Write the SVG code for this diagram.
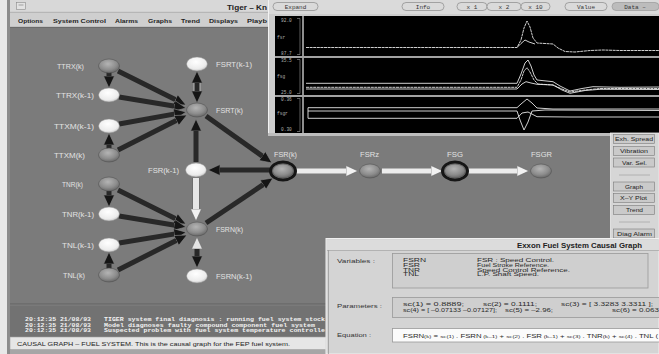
<svg xmlns="http://www.w3.org/2000/svg" width="659" height="354" viewBox="0 0 659 354">
<style>
.lbl{font-family:"Liberation Sans",Arial,sans-serif;font-size:6.5px;fill:#e2e2e2}
.menu{font-family:"Liberation Sans",Arial,sans-serif;font-size:6px;font-weight:bold;fill:#1e1e1e}
.log{font-family:"Liberation Mono",monospace;font-size:5.5px;font-weight:bold;fill:#f2f2f2}
.btn{fill:#cacaca;stroke:#7a7a7a;stroke-width:0.6}
.btxt{font-family:"Liberation Sans",Arial,sans-serif;font-size:5.5px;fill:#222}
.pill{fill:#dadada;stroke:#8a8a8a;stroke-width:0.7}
.ptxt{font-family:"Liberation Mono",monospace;font-size:6px;fill:#333;text-anchor:middle}
.ax{font-family:"Liberation Mono",monospace;font-size:4.5px;fill:#b0b0b0}
.tr{fill:none;stroke:#e6e6e6;stroke-width:0.9}
.dark{fill:url(#gd);stroke:#4a4a4a;stroke-width:0.5}
.light{fill:url(#gl);stroke:#8a8a8a;stroke-width:0.5}
.ring{fill:none;stroke:#161616;stroke-width:3}
.ad{fill:none;stroke:#282828;stroke-width:5;marker-end:url(#hd)}
.aw{fill:none;stroke:#ececec;stroke-width:5;marker-end:url(#hw)}
.pt{font-family:"Liberation Sans",Arial,sans-serif;font-size:5px;fill:#2a2a2a}
.pv{font-family:"Liberation Sans",Arial,sans-serif;font-size:4.6px;fill:#2a2a2a}
.pl{font-family:"Liberation Sans",Arial,sans-serif;font-size:6px;fill:#333}
</style>
<defs>
<radialGradient id="gd" cx="0.45" cy="0.35" r="0.7"><stop offset="0" stop-color="#b4b4b4"/><stop offset="0.6" stop-color="#8c8c8c"/><stop offset="1" stop-color="#606060"/></radialGradient>
<radialGradient id="gl" cx="0.45" cy="0.35" r="0.7"><stop offset="0" stop-color="#ffffff"/><stop offset="0.7" stop-color="#ececec"/><stop offset="1" stop-color="#bdbdbd"/></radialGradient>
<marker id="hd" markerUnits="userSpaceOnUse" viewBox="0 0 12 12" refX="1" refY="6" markerWidth="12" markerHeight="12" orient="auto-start-reverse"><path d="M0,0.5 L12,6 L0,11.5 z" fill="#151515" stroke="#8a8a8a" stroke-width="0.6"/></marker>
<marker id="hl" markerUnits="userSpaceOnUse" viewBox="0 0 12 12" refX="1" refY="6" markerWidth="12" markerHeight="12" orient="auto-start-reverse"><path d="M0,0.5 L12,6 L0,11.5 z" fill="#e4e4e4" stroke="#6a6a6a" stroke-width="0.6"/></marker>
<marker id="hw" markerUnits="userSpaceOnUse" viewBox="0 0 12 12" refX="1" refY="6" markerWidth="12" markerHeight="12" orient="auto"><path d="M0,0.5 L12,6 L0,11.5 z" fill="#f2f2f2" stroke="#6a6a6a" stroke-width="0.6"/></marker>
</defs>

<!-- background & main window -->
<rect x="0" y="0" width="659" height="354" fill="#e8e8e8"/>
<rect x="7" y="0" width="4" height="354" fill="#8c8c8c"/>
<rect x="10" y="0" width="258" height="12" fill="#d8d8d8"/>
<rect x="16.5" y="2.5" width="9" height="7" fill="#e2e2e2" stroke="#8a8a8a" stroke-width="0.6"/>
<path d="M18.5,5 L23.5,5" stroke="#777" stroke-width="0.6"/>
<text x="227" y="9.5" font-family="Liberation Sans, Arial, sans-serif" font-size="7" font-weight="bold" fill="#222" textLength="40" lengthAdjust="spacingAndGlyphs">Tiger – Kn</text>
<rect x="10" y="12" width="258" height="15" fill="#cfcfcf"/>
<line x1="10" y1="12.3" x2="268" y2="12.3" stroke="#9a9a9a" stroke-width="0.6"/>
<text class="menu" x="18" y="22.5" textLength="25" lengthAdjust="spacingAndGlyphs">Options</text>
<text class="menu" x="53" y="22.5" textLength="53" lengthAdjust="spacingAndGlyphs">System Control</text>
<text class="menu" x="115" y="22.5" textLength="23" lengthAdjust="spacingAndGlyphs">Alarms</text>
<text class="menu" x="148" y="22.5" textLength="24" lengthAdjust="spacingAndGlyphs">Graphs</text>
<text class="menu" x="181" y="22.5" textLength="19" lengthAdjust="spacingAndGlyphs">Trend</text>
<text class="menu" x="209" y="22.5" textLength="29" lengthAdjust="spacingAndGlyphs">Displays</text>
<text class="menu" x="247" y="22.5" textLength="20" lengthAdjust="spacingAndGlyphs">Playb</text>
<rect x="10" y="27" width="601" height="277" fill="#7b7b7b"/>
<line x1="10" y1="27.3" x2="268" y2="27.3" stroke="#5a5a5a" stroke-width="0.6"/>
<rect x="10" y="304" width="316" height="33" fill="#727272"/>
<line x1="10" y1="304" x2="326" y2="304" stroke="#5c5c5c" stroke-width="0.8"/>
<line x1="10" y1="305" x2="326" y2="305" stroke="#8e8e8e" stroke-width="0.6"/>
<text class="log" x="25" y="321" textLength="66" lengthAdjust="spacingAndGlyphs">20:12:35 21/08/93</text>
<text class="log" x="104" y="321" textLength="221" lengthAdjust="spacingAndGlyphs">TIGER system final diagnosis : running fuel system stock</text>
<text class="log" x="25" y="326.5" textLength="66" lengthAdjust="spacingAndGlyphs">20:12:35 21/08/93</text>
<text class="log" x="104" y="326.5" textLength="211" lengthAdjust="spacingAndGlyphs">Model diagnoses faulty compound component fuel system</text>
<text class="log" x="25" y="332" textLength="66" lengthAdjust="spacingAndGlyphs">20:12:35 21/08/93</text>
<text class="log" x="104" y="332" textLength="221" lengthAdjust="spacingAndGlyphs">Suspected problem with fuel system temperature controlle</text>
<rect x="10" y="337" width="316" height="12.5" fill="#e6e6e6" stroke="#a0a0a0" stroke-width="0.6"/>
<text x="17" y="346" font-family="Liberation Sans, Arial, sans-serif" font-size="6" fill="#222" textLength="273" lengthAdjust="spacingAndGlyphs">CAUSAL GRAPH – FUEL SYSTEM.  This is the causal graph for the FEP fuel system.</text>
<rect x="10" y="349.5" width="316" height="4.5" fill="#a6a6a6"/>

<!-- connectors -->
<g id="connectors">
<path class="ad" d="M118,71 L176.2,100.1"/>
<path class="ad" d="M119,97 L175.1,106.2"/>
<path class="ad" d="M119,124 L175.2,113.9"/>
<path class="ad" d="M118,150 L177.2,120"/>
<path class="ad" d="M109,72 L109,77"/>
<path class="ad" d="M109,149 L109,144"/>
<path class="ad" d="M109,191 L109,196"/>
<path class="ad" d="M109,269 L109,263"/>
<path d="M197,82 L197,92" fill="none" stroke="#b8b8b8" stroke-width="7"/>
<path d="M197,82 L197,92" fill="none" stroke="#282828" stroke-width="5" marker-start="url(#hd)" marker-end="url(#hd)"/>
<path class="ad" d="M206,116 L263,156.6"/>
<path class="ad" d="M196,162 L196,130"/>
<path class="ad" d="M270,170 L219,170"/>
<path d="M196,178 L196,210" fill="none" stroke="#6a6a6a" stroke-width="7.5"/>
<path d="M196,178 L196,210" fill="none" stroke="#e6e6e6" stroke-width="6" marker-end="url(#hw)"/>
<path class="ad" d="M206,223 L263.9,184.1"/>
<path class="ad" d="M118,190 L176.2,219.1"/>
<path class="ad" d="M119,216 L175.1,225.2"/>
<path class="ad" d="M119,243 L175.2,233.9"/>
<path class="ad" d="M118,270 L177.2,240"/>
<path d="M197,248 L197,257" fill="none" stroke="#282828" stroke-width="5" marker-start="url(#hl)" marker-end="url(#hd)"/>
<path class="aw" d="M296,171 L347,171"/>
<path class="aw" d="M382,171 L432,171"/>
<path class="aw" d="M468,171 L518,171"/>
</g>

<!-- nodes -->
<g id="n-TTRXk"><ellipse class="dark" cx="109" cy="66" rx="10.5" ry="7"/><text class="lbl" x="57" y="68.5" textLength="27" lengthAdjust="spacingAndGlyphs">TTRX(k)</text></g>
<g id="n-TTRXk1"><ellipse class="light" cx="109" cy="95" rx="10.5" ry="7"/><text class="lbl" x="56" y="97.5" textLength="38" lengthAdjust="spacingAndGlyphs">TTRX(k-1)</text></g>
<g id="n-TTXMk1"><ellipse class="light" cx="109" cy="126" rx="10.5" ry="7"/><text class="lbl" x="54" y="128.5" textLength="40" lengthAdjust="spacingAndGlyphs">TTXM(k-1)</text></g>
<g id="n-TTXMk"><ellipse class="dark" cx="109" cy="155" rx="10.5" ry="7"/><text class="lbl" x="54" y="157.5" textLength="31" lengthAdjust="spacingAndGlyphs">TTXM(k)</text></g>
<g id="n-TNRk"><ellipse class="dark" cx="109" cy="184" rx="10.5" ry="7"/><text class="lbl" x="62" y="186.5" textLength="21" lengthAdjust="spacingAndGlyphs">TNR(k)</text></g>
<g id="n-TNRk1"><ellipse class="light" cx="109" cy="214" rx="10.5" ry="7"/><text class="lbl" x="62" y="216.5" textLength="32" lengthAdjust="spacingAndGlyphs">TNR(k-1)</text></g>
<g id="n-TNLk1"><ellipse class="light" cx="109" cy="245" rx="10.5" ry="7"/><text class="lbl" x="62" y="247.5" textLength="32" lengthAdjust="spacingAndGlyphs">TNL(k-1)</text></g>
<g id="n-TNLk"><ellipse class="dark" cx="109" cy="275" rx="10.5" ry="7"/><text class="lbl" x="63" y="277.5" textLength="22" lengthAdjust="spacingAndGlyphs">TNL(k)</text></g>
<g id="n-FSRTk1"><ellipse class="light" cx="197" cy="64" rx="10.5" ry="7"/><text class="lbl" x="216" y="66.5" textLength="36" lengthAdjust="spacingAndGlyphs">FSRT(k-1)</text></g>
<g id="n-FSRTk"><ellipse class="dark" cx="197" cy="110" rx="10.5" ry="7"/><text class="lbl" x="216" y="112.5" textLength="27" lengthAdjust="spacingAndGlyphs">FSRT(k)</text></g>
<g id="n-FSRk1"><ellipse class="light" cx="196" cy="170" rx="10.5" ry="7"/><text class="lbl" x="148" y="172.5" textLength="31" lengthAdjust="spacingAndGlyphs">FSR(k-1)</text></g>
<g id="n-FSRNk"><ellipse class="dark" cx="197" cy="229" rx="10.5" ry="7"/><text class="lbl" x="216" y="231.5" textLength="27" lengthAdjust="spacingAndGlyphs">FSRN(k)</text></g>
<g id="n-FSRNk1"><ellipse class="light" cx="197" cy="276" rx="10.5" ry="7"/><text class="lbl" x="216" y="278.5" textLength="36" lengthAdjust="spacingAndGlyphs">FSRN(k-1)</text></g>
<g id="n-FSRk"><ellipse class="ring" cx="283" cy="171" rx="12.5" ry="9"/><ellipse class="dark" cx="283" cy="171" rx="10.5" ry="7"/><text class="lbl" x="274" y="156.5" textLength="23" lengthAdjust="spacingAndGlyphs">FSR(k)</text></g>
<g id="n-FSRz"><ellipse class="dark" cx="370" cy="171" rx="10.5" ry="7"/><text class="lbl" x="360" y="156.5" textLength="19" lengthAdjust="spacingAndGlyphs">FSRz</text></g>
<g id="n-FSG"><ellipse class="ring" cx="455" cy="171" rx="12.5" ry="9"/><ellipse class="dark" cx="455" cy="171" rx="10.5" ry="7"/><text class="lbl" x="447" y="156.5" textLength="16" lengthAdjust="spacingAndGlyphs">FSG</text></g>
<g id="n-FSGR"><ellipse class="dark" cx="541" cy="171" rx="10.5" ry="7"/><text class="lbl" x="531" y="156.5" textLength="21" lengthAdjust="spacingAndGlyphs">FSGR</text></g>

<!-- chart window -->
<g id="chart">
<rect x="268" y="0" width="391" height="136" fill="#cdcdcd"/>
<rect x="268" y="0" width="391" height="14" fill="#dadada"/>
<line x1="268.5" y1="0" x2="268.5" y2="136" stroke="#f2f2f2" stroke-width="1"/>
<rect class="pill" x="273" y="2.5" width="45" height="8" rx="4"/><text class="ptxt" x="295.5" y="8.8">Expand</text>
<rect class="pill" x="402" y="2.5" width="42" height="8" rx="4"/><text class="ptxt" x="423" y="8.8">Info</text>
<rect class="pill" x="457" y="2.5" width="30" height="8" rx="4"/><text class="ptxt" x="472" y="8.8">x 1</text>
<rect class="pill" x="487" y="2.5" width="34" height="8" rx="4"/><text class="ptxt" x="504" y="8.8">x 2</text>
<rect class="pill" x="521" y="2.5" width="29" height="8" rx="4"/><text class="ptxt" x="535.5" y="8.8">x 10</text>
<rect class="pill" x="565" y="2.5" width="42" height="8" rx="4"/><text class="ptxt" x="586" y="8.8">Value</text>
<rect x="612" y="2.5" width="47" height="8" rx="4" fill="#bcbcbc" stroke="#9a9a9a" stroke-width="0.7"/><text class="ptxt" x="635" y="8.8" fill="#666">Data –</text>
<rect x="275" y="16" width="384" height="117" fill="#000"/>
<rect x="302" y="16" width="2" height="117" fill="#8e8e8e"/>
<rect x="275" y="56" width="384" height="2" fill="#a2a2a2"/>
<rect x="275" y="95" width="384" height="2" fill="#a2a2a2"/>
<rect x="268" y="133" width="391" height="3" fill="#bdbdbd"/>
<path d="M297,18.5 L300,18.5 L300,54.5 L297,54.5 M297,59.5 L300,59.5 L300,93.5 L297,93.5 M297,98.5 L300,98.5 L300,131.5 L297,131.5" fill="none" stroke="#9a9a9a" stroke-width="0.6"/>
<text class="ax" x="281" y="21.5">92.0</text><text class="ax" x="277" y="38.5">fsr</text><text class="ax" x="281" y="55">87.7</text>
<text class="ax" x="281" y="61.5">35.5</text><text class="ax" x="277" y="78">fsg</text><text class="ax" x="281" y="94">25.0</text>
<text class="ax" x="281" y="101">0.36</text><text class="ax" x="277" y="115">fsgr</text><text class="ax" x="281" y="130.5">0.30</text>
<path class="tr" stroke-dasharray="3 0.6" d="M306,47.5 L517,47.5 L521,40 L524,28 L527,21 L530,27 L533,38 L537,43 L545,43.5 L553,44 L558,48 L565,51.5 L575,52 L590,50.5 L603,50 L620,50.5 L659,50.5"/>
<path class="tr" d="M517,47.5 L521,43.5 L525,40 L529,42 L535,44"/>
<path class="tr" d="M306,83.3 L517,83.3 L521,74 L525,63 L528,60 L531,66 L534,75 L537,80 L553,81.7 L560,86 L570,91 L582,88.5 L593,86.7 L620,87.3 L659,87"/>
<path class="tr" stroke-dasharray="3 0.6" d="M306,87.3 L517,87.3 L521,80 L524,71 L527,67.7 L530,72 L534,80 L538,84 L553,85 L562,89 L570,92 L585,90 L600,88.5 L659,88.5"/>
<path class="tr" d="M306,89 L517,89 L522,84 L526,81.7 L531,83 L537,84.3 L553,85 L562,90 L570,93.3 L585,90.5 L600,89.3 L659,89.5"/>
<path class="tr" d="M308,107.7 L517,107.7 L521,104 L527,99 L532,103 L537,108 L553,109 L659,109"/>
<path class="tr" d="M308,111 L517,111 L520,120 L524,130 L528,122 L532,111 L545,110 L659,110.5"/>
<path class="tr" d="M308,107.7 L308,118.3 L517,118.3 L522,113 L528,112 L537,116.7 L570,117 L659,117"/>
</g>

<!-- right button panel -->
<g id="buttons">
<rect x="610.5" y="133" width="48.5" height="106" fill="#d6d6d6" stroke="#eeeeee" stroke-width="0.8"/>
<rect class="btn" x="613.5" y="134.5" width="41" height="9"/><text class="btxt" x="615" y="141.2" textLength="38" lengthAdjust="spacingAndGlyphs">Exh. Spread</text>
<rect class="btn" x="613.5" y="146.5" width="41" height="9"/><text class="btxt" x="620" y="153.2" textLength="28" lengthAdjust="spacingAndGlyphs">Vibration</text>
<rect class="btn" x="613.5" y="158" width="41" height="9"/><text class="btxt" x="622" y="164.7" textLength="25" lengthAdjust="spacingAndGlyphs">Var. Sel.</text>
<line x1="619" y1="175" x2="650" y2="175" stroke="#a8a8a8" stroke-width="0.8"/>
<rect class="btn" x="613.5" y="182" width="41" height="9"/><text class="btxt" x="625" y="188.7" textLength="18" lengthAdjust="spacingAndGlyphs">Graph</text>
<rect class="btn" x="613.5" y="193.5" width="41" height="9"/><text class="btxt" x="620" y="200.2" textLength="27" lengthAdjust="spacingAndGlyphs">X–Y Plot</text>
<rect class="btn" x="613.5" y="205.5" width="41" height="9"/><text class="btxt" x="626" y="212.2" textLength="17" lengthAdjust="spacingAndGlyphs">Trend</text>
<line x1="619" y1="222" x2="650" y2="222" stroke="#a8a8a8" stroke-width="0.8"/>
<rect class="btn" x="613.5" y="229" width="41" height="9"/><text class="btxt" x="617" y="235.7" textLength="35" lengthAdjust="spacingAndGlyphs">Diag Alarm</text>
</g>

<!-- info window -->
<g id="info">
<rect x="326" y="238.5" width="333" height="115.5" fill="#d4d4d4" stroke="#f0f0f0" stroke-width="1"/>
<rect x="327" y="239.5" width="332" height="10.5" fill="#dcdcdc"/>
<line x1="328.5" y1="250" x2="328.5" y2="354" stroke="#9a9a9a" stroke-width="0.8"/>
<line x1="327" y1="250.5" x2="659" y2="250.5" stroke="#9a9a9a" stroke-width="0.6"/>
<text x="517" y="248" font-family="Liberation Sans, Arial, sans-serif" font-size="6.5" font-weight="bold" fill="#222" textLength="125" lengthAdjust="spacingAndGlyphs">Exxon Fuel System Causal Graph</text>
<text class="pl" x="337" y="263" textLength="38" lengthAdjust="spacingAndGlyphs">Variables :</text>
<rect x="392.5" y="253.5" width="255.5" height="34.5" fill="#cfcfcf" stroke="#9a9a9a" stroke-width="0.8"/>
<text class="pv" x="403" y="262" textLength="23" lengthAdjust="spacingAndGlyphs">FSRN</text>
<text class="pv" x="403" y="266.8" textLength="17" lengthAdjust="spacingAndGlyphs">FSR</text>
<text class="pv" x="403" y="271.6" textLength="17" lengthAdjust="spacingAndGlyphs">TNR</text>
<text class="pv" x="403" y="276.4" textLength="16" lengthAdjust="spacingAndGlyphs">TNL</text>
<text class="pv" x="477" y="262" textLength="77" lengthAdjust="spacingAndGlyphs">FSR : Speed Control.</text>
<text class="pv" x="477" y="266.8" textLength="72" lengthAdjust="spacingAndGlyphs">Fuel Stroke Reference.</text>
<text class="pv" x="477" y="271.6" textLength="93" lengthAdjust="spacingAndGlyphs">Speed Control Reference.</text>
<text class="pv" x="477" y="276.4" textLength="62" lengthAdjust="spacingAndGlyphs">L.P. Shaft Speed.</text>
<text class="pl" x="337" y="308" textLength="45" lengthAdjust="spacingAndGlyphs">Parameters :</text>
<rect x="392.5" y="297.5" width="267" height="20" fill="#cfcfcf" stroke="#9a9a9a" stroke-width="0.8"/>
<text class="pt" x="403" y="306" textLength="61" lengthAdjust="spacingAndGlyphs">sc(1) = 0.8889;</text>
<text class="pt" x="483" y="306" textLength="54" lengthAdjust="spacingAndGlyphs">sc(2) = 0.1111;</text>
<text class="pt" x="561" y="306" textLength="92" lengthAdjust="spacingAndGlyphs">sc(3) = [ 3.3283  3.3311 ];</text>
<text class="pt" x="403" y="312" textLength="94" lengthAdjust="spacingAndGlyphs">sc(4) = [ –0.07133  –0.07127];</text>
<text class="pt" x="505" y="312" textLength="48" lengthAdjust="spacingAndGlyphs">sc(5) = –2.96;</text>
<text class="pt" x="612" y="312" textLength="47" lengthAdjust="spacingAndGlyphs">sc(6) = 0.063</text>
<text class="pl" x="337" y="337" textLength="34" lengthAdjust="spacingAndGlyphs">Equation :</text>
<rect x="392.5" y="328.5" width="267" height="13.5" fill="#fbfbfb" stroke="#9a9a9a" stroke-width="0.8"/>
<text class="pt" x="403" y="337.5" font-size="6" textLength="255" lengthAdjust="spacingAndGlyphs">FSRN<tspan font-size="4">(k)</tspan> = <tspan font-size="4">sc(1)</tspan> . FSRN<tspan font-size="4"> (k–1)</tspan> + <tspan font-size="4">sc(2)</tspan> . FSR<tspan font-size="4"> (k–1)</tspan> + <tspan font-size="4">sc(3)</tspan> . TNR<tspan font-size="4">(k)</tspan> + <tspan font-size="4">sc(4)</tspan> . TNL (</text>
</g>
</svg>
